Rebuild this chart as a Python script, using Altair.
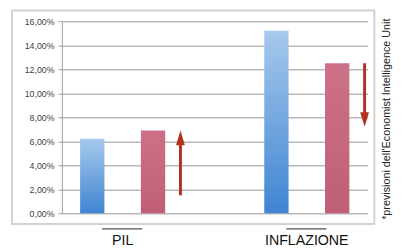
import altair as alt
import pandas as pd

groups = ["PIL", "INFLAZIONE"]
series = ["attuale", "previsione"]
blue_vals = [6.2, 15.2]
red_vals = [6.9, 12.5]
arrow_start = [1.5, 12.5]
arrow_end = [6.9, 7.2]
arrow_dir = ["up", "down"]
y_ticks = [0, 2, 4, 6, 8, 10, 12, 14, 16]
note = "*previsioni dell'Economist Intelligence Unit"

W, H = 312, 196

bars = pd.DataFrame({
    "gruppo": groups * 2,
    "serie": [series[0]] * 2 + [series[1]] * 2,
    "valore": blue_vals + red_vals,
})
arrows = pd.DataFrame({"gruppo": groups, "start": arrow_start, "end": arrow_end, "dir": arrow_dir})
groups_df = pd.DataFrame({"gruppo": groups})

xscale = alt.Scale(domain=groups, paddingInner=0.34, paddingOuter=0)
x_axis = alt.Axis(title=None, domain=False, ticks=False, labelFontSize=14.5,
                  labelFont="Liberation Sans",
                  labelColor="#111111", labelPadding=21, labelAngle=0)
x_enc = alt.X("gruppo:N", scale=xscale, axis=x_axis, sort=groups)
yscale = alt.Scale(domain=[0, 16], nice=False)
y_axis = alt.Axis(title=None, values=y_ticks, labelExpr="replace(format(datum.value, '.2f'), '.', ',') + '%'",
                  labelFontSize=9, labelFont="Liberation Sans", labelColor="#404040", labelOverlap=False,
                  labelPadding=4, tickSize=4, tickColor="#a0a0a0", domainColor="#a0a0a0",
                  domainWidth=1, gridColor="#b8b8b8", gridWidth=1.5)
xoff = alt.XOffset("serie:N", scale=alt.Scale(domain=series, paddingInner=0.6, paddingOuter=0.3))

def yq(field):
    return alt.Y(field, scale=yscale, axis=y_axis)

blue_grad = alt.LinearGradient(gradient="linear", x1=0, y1=0, x2=0, y2=1,
                               stops=[alt.GradientStop(color="#a6c9ec", offset=0),
                                      alt.GradientStop(color="#3f85d2", offset=1)])
red_grad = alt.LinearGradient(gradient="linear", x1=0, y1=0, x2=0, y2=1,
                              stops=[alt.GradientStop(color="#cc7187", offset=0),
                                     alt.GradientStop(color="#c05f75", offset=1)])

frame = alt.Chart(groups_df).mark_rect(fillOpacity=0, stroke="#cfcfcf", strokeWidth=1.5).encode(
    x=alt.value(-51), x2=alt.value(319), y=alt.value(-11), y2=alt.value(207))

base = alt.Chart(bars)
blue = base.transform_filter(alt.datum.serie == series[0]).mark_bar(color=blue_grad).encode(
    x=x_enc, xOffset=xoff, y=yq("valore:Q"))
red = base.transform_filter(alt.datum.serie == series[1]).mark_bar(color=red_grad).encode(
    x=x_enc, xOffset=xoff, y=yq("valore:Q"))

arrow_color = "#b3321f"
abase = alt.Chart(arrows)
shaft_up = abase.transform_filter(alt.datum.dir == "up").mark_rule(
    color=arrow_color, strokeWidth=3, xOffset=59, y2Offset=8).encode(
    x=x_enc, y=yq("start:Q"), y2="end:Q")
shaft_down = abase.transform_filter(alt.datum.dir == "down").mark_rule(
    color=arrow_color, strokeWidth=3, xOffset=59, y2Offset=-8).encode(
    x=x_enc, y=yq("start:Q"), y2="end:Q")
head_up = abase.transform_filter(alt.datum.dir == "up").mark_point(
    shape="M-0.6,1 L0,-1 L0.6,1 Z", size=225, filled=True, opacity=1,
    color=arrow_color, xOffset=59, yOffset=7.5).encode(
    x=x_enc, y=yq("end:Q"))
head_down = abase.transform_filter(alt.datum.dir == "down").mark_point(
    shape="M-0.6,-1 L0,1 L0.6,-1 Z", size=225, filled=True, opacity=1,
    color=arrow_color, xOffset=59, yOffset=-7.5).encode(
    x=x_enc, y=yq("end:Q"))

braces = alt.Chart(groups_df).mark_rule(color="#222222", strokeWidth=1, xOffset=-21, x2Offset=20).encode(
    x=x_enc, x2="gruppo:N", y=alt.value(H + 16))

note_mark = alt.Chart(pd.DataFrame({"t": [note]})).mark_text(
    angle=270, fontSize=11, font="Liberation Sans", color="#222222", align="center", baseline="middle").encode(
    text="t:N", x=alt.value(W + 20), y=alt.value(100))

chart = alt.layer(frame, blue, red, shaft_up, shaft_down, head_up, head_down, braces, note_mark).properties(
    width=W, height=H,
    autosize=alt.AutoSizeParams(type="none"),
    padding={"left": 55, "top": 11, "right": 28, "bottom": 34},
    background="white",
).configure_view(stroke=None)

chart.save("out.html", embed_options={"renderer": "svg", "actions": False})
